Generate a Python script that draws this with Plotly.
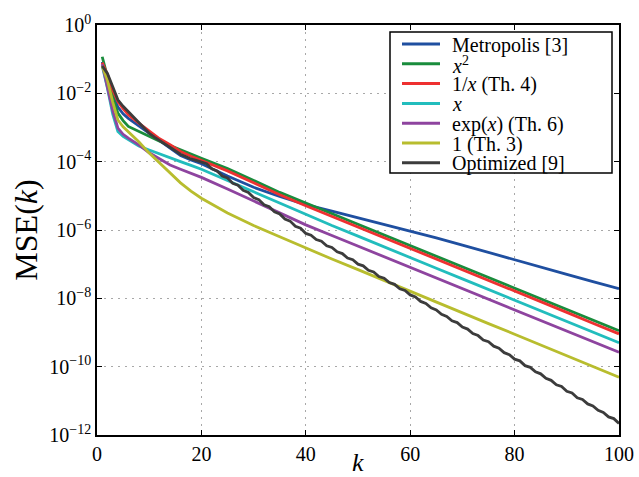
import numpy as np
import plotly.graph_objects as go

# iteration index for the sampled curves
k = [1, 2, 3, 4, 5, 6, 8, 10, 12, 14, 16, 18, 20, 25, 30, 35, 40,
     45, 50, 55, 60, 65, 70, 75, 80, 85, 90, 95, 100]

# log10 of MSE(k)
metropolis = [-1.08, -1.55, -2.05, -2.4, -2.6, -2.73, -2.95, -3.17, -3.39, -3.62, -3.82, -3.95, -4.06,
              -4.42, -4.75, -5.02, -5.26, -5.45, -5.64, -5.83, -6.02, -6.23, -6.44, -6.66, -6.88,
              -7.09, -7.3, -7.51, -7.72]
x_sq = [-0.93, -1.5, -2.1, -2.58, -2.8, -2.97, -3.12, -3.27, -3.4, -3.53, -3.66, -3.78, -3.9,
        -4.2, -4.55, -4.9, -5.21, -5.52, -5.83, -6.14, -6.46, -6.77, -7.08, -7.39, -7.7,
        -8.02, -8.33, -8.64, -8.95]
inv_x = [-1.1, -1.45, -1.9, -2.24, -2.45, -2.63, -2.87, -3.1, -3.33, -3.5, -3.7, -3.84, -3.96,
         -4.27, -4.62, -4.97, -5.29, -5.6, -5.91, -6.23, -6.54, -6.85, -7.16, -7.48, -7.79,
         -8.1, -8.41, -8.73, -9.04]
lin_x = [-1.2, -1.85, -2.6, -3.12, -3.26, -3.36, -3.54, -3.66, -3.78, -3.89, -4.0, -4.11, -4.22,
         -4.55, -4.88, -5.22, -5.56, -5.87, -6.18, -6.5, -6.81, -7.12, -7.43, -7.74, -8.06,
         -8.37, -8.68, -8.99, -9.3]
exp_x = [-1.15, -1.8, -2.5, -3.02, -3.2, -3.31, -3.51, -3.74, -3.93, -4.1, -4.22, -4.34, -4.46,
         -4.8, -5.15, -5.5, -5.85, -6.16, -6.47, -6.78, -7.09, -7.4, -7.71, -8.02, -8.34,
         -8.65, -8.96, -9.27, -9.58]
one = [-1.2, -1.62, -2.25, -2.78, -2.98, -3.12, -3.42, -3.75, -4.05, -4.35, -4.62, -4.86, -5.07,
       -5.5, -5.87, -6.2, -6.53, -6.85, -7.16, -7.48, -7.79, -8.1, -8.42, -8.74, -9.05,
       -9.36, -9.68, -10.0, -10.31]

# optimized curve is wavy, so it is read at every k
k_opt = list(range(1, 101))
optimized = [-1.2, -1.42, -1.8, -2.19, -2.38, -2.54, -2.7, -2.83, -3.0, -3.17,
             -3.28, -3.38, -3.5, -3.6, -3.7, -3.78, -3.85, -3.92, -3.96, -4.0,
             -4.06, -4.21, -4.27, -4.42, -4.48, -4.63, -4.69, -4.84, -4.9, -5.05,
             -5.11, -5.26, -5.32, -5.47, -5.53, -5.68, -5.74, -5.89, -5.95, -6.1,
             -6.15, -6.28, -6.33, -6.46, -6.51, -6.64, -6.69, -6.82, -6.87, -7.0,
             -7.05, -7.18, -7.23, -7.36, -7.41, -7.54, -7.59, -7.72, -7.77, -7.9,
             -7.96, -8.09, -8.15, -8.28, -8.34, -8.47, -8.53, -8.66, -8.71, -8.84,
             -8.9, -9.03, -9.09, -9.22, -9.27, -9.4, -9.46, -9.59, -9.65, -9.78,
             -9.83, -9.97, -10.02, -10.15, -10.21, -10.34, -10.4, -10.53, -10.58, -10.72,
             -10.77, -10.91, -10.96, -11.09, -11.15, -11.28, -11.34, -11.47, -11.52, -11.66]

series = [('Metropolis [3]', k, metropolis, '#1f4fa0'),
          ('<i>x</i><sup>2</sup>', k, x_sq, '#198c3c'),
          ('1/<i>x</i> (Th. 4)', k, inv_x, '#ee3030'),
          ('<i>x</i>', k, lin_x, '#22bdbd'),
          ('exp(<i>x</i>) (Th. 6)', k, exp_x, '#8e449f'),
          ('1 (Th. 3)', k, one, '#b8bd2e'),
          ('Optimized [9]', k_opt, optimized, '#3c3c3c')]

ytick_exp = [0, -2, -4, -6, -8, -10, -12]

W, H = 639, 477
# plot box in pixels
L, R, T, B = 97, 619, 25, 435
def px(x):
    return (x - L) / (R - L)
def py(y):
    return (B - y) / (B - T)

fig = go.Figure()
for name, xs, ys, col in series:
    fig.add_trace(go.Scatter(x=xs, y=np.power(10.0, ys), mode='lines', name=name,
                             showlegend=False, line={'color': col, 'width': 2.8}))

# compact matplotlib-style legend box
fig.add_shape(type='rect', xref='paper', yref='paper',
              x0=px(390), x1=px(612), y0=py(173), y1=py(32),
              line={'color': 'black', 'width': 1.5}, fillcolor='white', layer='above')
for i, (name, xs, ys, col) in enumerate(series):
    yy = 44 + i * 19.8
    fig.add_shape(type='line', xref='paper', yref='paper',
                  x0=px(402), x1=px(440), y0=py(yy), y1=py(yy),
                  line={'color': col, 'width': 3}, layer='above')
    fig.add_annotation(text=name, xref='paper', yref='paper', x=px(450), y=py(yy + 1),
                       xanchor='left', yanchor='middle', showarrow=False,
                       font={'size': 20})

# x axis title placed like the reference
fig.add_annotation(text='<i>k</i>', xref='paper', yref='paper', x=0.5, y=py(462),
                   xanchor='center', yanchor='middle', showarrow=False, font={'size': 26})

grid = {'showgrid': True, 'gridcolor': '#a8a8a8', 'griddash': '2px,5px', 'gridwidth': 1}
frame = {'ticks': 'inside', 'ticklen': 5, 'tickcolor': 'black', 'automargin': False,
         'showline': True, 'linecolor': 'black', 'linewidth': 1.5, 'mirror': 'ticks',
         'zeroline': False}

fig.update_layout(
    width=W, height=H,
    margin={'l': L, 'r': W - R, 't': T, 'b': H - B},
    paper_bgcolor='white', plot_bgcolor='white',
    font={'family': 'Liberation Serif', 'size': 20, 'color': 'black'},
    xaxis={'range': [0, 100], 'tick0': 0, 'dtick': 20, **frame, **grid},
    yaxis={'type': 'log', 'range': [-12, 0], **frame, **grid,
           'tickvals': [10.0 ** e for e in ytick_exp],
           'ticktext': ['10<sup>%s</sup>' % (str(e).replace('-', '\u2212')) for e in ytick_exp],
           'title': {'text': 'MSE(<i>k</i>)', 'font': {'size': 32}, 'standoff': 2}},
)

# drop the default page margin so the figure fills the window exactly
fig.write_html('out.html', config={'displayModeBar': False},
               post_script="document.body.style.margin='0';")
